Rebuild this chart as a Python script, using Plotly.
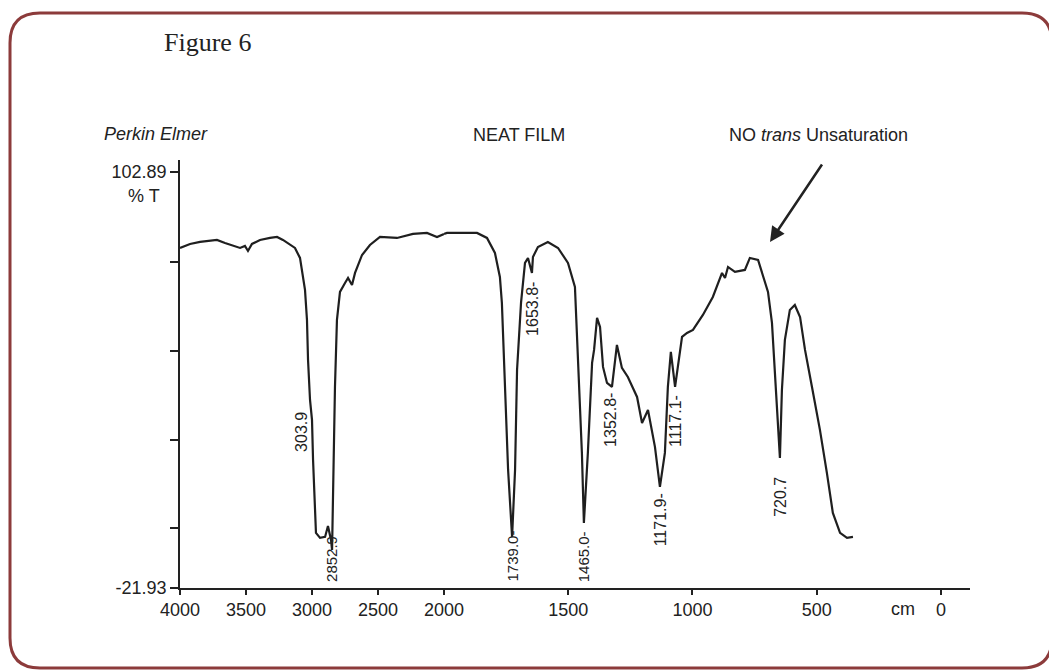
import plotly.graph_objects as go

# ---- data (wavenumber on the chart's axis, %T) ----
wavenumber = [4000, 3924, 3848, 3773, 3720, 3659, 3583, 3545, 3508, 3485, 3455, 3394, 3318, 3265,
              3220, 3167, 3129, 3091, 3068, 3053, 3038, 3030, 3015, 3000, 2992, 2970, 2939, 2901,
              2879, 2856, 2848, 2841, 2826, 2811, 2788, 2750, 2727, 2697, 2674, 2621, 2561, 2485,
              2356, 2235, 2129, 2053, 2000,
              1988, 1867, 1827, 1795, 1775, 1767, 1755, 1742, 1726, 1714, 1706, 1690, 1674, 1662,
              1646, 1642, 1622, 1582, 1541, 1501, 1473, 1461, 1445, 1437, 1421, 1404, 1396, 1384,
              1372, 1360, 1344, 1324, 1304, 1284, 1260, 1223, 1203, 1179, 1151, 1131, 1111, 1099,
              1087, 1070, 1058, 1042, 1022, 998, 958, 918, 881, 869, 857, 829, 789, 769, 736, 716,
              696, 680, 668, 656, 648, 640, 628, 608, 588, 567, 547, 519, 487, 459, 435, 406, 378, 354]
transmittance = [80.1, 81.3, 81.9, 82.2, 82.5, 81.6, 80.7, 80.1, 80.7, 79.2, 81.3, 82.5, 83.1, 83.4,
                 82.5, 81.0, 80.1, 77.1, 72.0, 67.5, 58.5, 46.5, 34.5, 28.5, 16.5, -5.4, -6.9, -6.6,
                 -3.3, -7.5, -10.5, 8.4, 38.4, 58.5, 66.9, 69.6, 71.1, 69.0, 72.6, 78.0, 81.0, 83.4,
                 83.1, 84.3, 84.6, 83.4, 84.3,
                 84.6, 84.6, 83.1, 78.6, 71.4, 63.6, 38.4, 13.5, -6.6, 13.5, 43.5, 63.6, 75.6, 77.1,
                 72.6, 77.4, 80.4, 81.9, 80.1, 75.6, 68.4, 48.6, 18.6, -2.4, 18.6, 45.6, 49.5, 59.1,
                 56.4, 44.4, 39.6, 38.4, 51.0, 44.1, 41.4, 35.4, 27.6, 31.5, 20.4, 8.4, 18.6, 38.4,
                 48.9, 38.4, 45.6, 53.4, 54.6, 55.5, 60.0, 65.4, 72.6, 71.1, 74.4, 72.9, 73.5, 77.1,
                 76.5, 71.4, 66.9, 57.6, 42.6, 26.4, 17.1, 37.5, 52.5, 61.5, 63.0, 59.4, 49.5, 38.4,
                 25.5, 12.6, 0.6, -5.4, -6.9, -6.6]

# peak labels as printed on the chart, with their positions (axis units)
peak_text = ["303.9", "2852.9", "1739.0-", "1653.8-", "1465.0-", "1352.8-", "1171.9-", "1117.1-", "720.7"]
peak_axis = ["x", "x", "x2", "x2", "x2", "x2", "x2", "x2", "x2"]
peak_x = [3076, 2848, 1726, 1642, 1437, 1328, 1131, 1066, 644]
peak_y = [31.5, -20.7, -20.7, 70.5, -20.7, 37.2, 7.2, 36.6, 12.0]
peak_anchor = ["top", "bottom", "bottom", "top", "bottom", "top", "top", "top", "top"]
peak_size = [16, 15, 15, 16, 15, 16, 16, 16, 16]

x_left_ticks = [4000, 3500, 3000, 2500, 2000]
x_right_ticks = [1500, 1000, 500, 0]
y_ticks = [-21.93, -3.9, 22.5, 49.2, 75.9, 102.89]
y_ticktext = ["-21.93", "", "", "", "", "102.89"]

# ---- split at the 2000 cm-1 scale change ----
lx = [w for w in wavenumber if w >= 2000]
ly = [t for w, t in zip(wavenumber, transmittance) if w >= 2000]
rx = [w for w in wavenumber if w <= 2000]
ry = [t for w, t in zip(wavenumber, transmittance) if w <= 2000]

OFF = 8  # page body margin of the html
W, H = 1057 - OFF, 671 - OFF
ML, MR, MT, MB = 180 - OFF, 87, 160 - OFF, 83
PW, PH = W - ML - MR, H - MT - MB


def px(xp):
    return (xp - OFF - ML) / PW


def py(yp):
    return (H - MB - (yp - OFF)) / PH


split = px(444)

line_style = dict(color="#1f1f1f", width=2.2)
fig = go.Figure()
fig.add_trace(go.Scatter(x=lx, y=ly, mode="lines", line=line_style, xaxis="x", yaxis="y",
                         showlegend=False, hoverinfo="skip"))
fig.add_trace(go.Scatter(x=rx, y=ry, mode="lines", line=line_style, xaxis="x2", yaxis="y",
                         showlegend=False, hoverinfo="skip"))

FONT = "Liberation Sans, Arial, sans-serif"
axis_common = dict(showline=True, linecolor="#222", linewidth=1.5, ticks="outside",
                   tickcolor="#222", tickwidth=1.5, showgrid=False, zeroline=False,
                   tickfont=dict(family=FONT, size=18, color="#222"))

fig.update_layout(
    width=W, height=H, margin=dict(l=ML, r=MR, t=MT, b=MB),
    paper_bgcolor="white", plot_bgcolor="white",
    xaxis=dict(domain=[0, split], range=[4000, 2000], tickvals=x_left_ticks, anchor="y", ticklen=5, **axis_common),
    xaxis2=dict(domain=[split, 1], range=[2000, -117], tickvals=x_right_ticks, anchor="y", ticklen=5, **axis_common),
    yaxis=dict(range=[-21.93, 106.49], tickvals=y_ticks, ticktext=y_ticktext, ticklen=8, **axis_common),
)

ann = []
for t, ax_, xv, yv, ya, fs in zip(peak_text, peak_axis, peak_x, peak_y, peak_anchor, peak_size):
    ann.append(dict(text=t, x=xv, y=yv, xref=ax_, yref="y", showarrow=False, textangle=-90,
                    xanchor="center", yanchor=ya, font=dict(family=FONT, size=fs, color="#222")))

ann += [
    dict(text="Figure 6", x=px(207), y=py(42), xref="paper", yref="paper", showarrow=False,
         xanchor="center", yanchor="middle",
         font=dict(family="Liberation Serif, Times New Roman, serif", size=26, color="#222")),
    dict(text="<i>Perkin Elmer</i>", x=px(156), y=py(134), xref="paper", yref="paper", showarrow=False,
         xanchor="center", yanchor="middle", font=dict(family=FONT, size=18, color="#222")),
    dict(text="NEAT FILM", x=px(519), y=py(135), xref="paper", yref="paper", showarrow=False,
         xanchor="center", yanchor="middle", font=dict(family=FONT, size=18, color="#222")),
    dict(text="NO <i>trans</i> Unsaturation", x=px(818), y=py(135), xref="paper", yref="paper",
         showarrow=False, xanchor="center", yanchor="middle", font=dict(family=FONT, size=18, color="#222")),
    dict(text="% T", x=px(162), y=py(196), xref="paper", yref="paper", showarrow=False,
         xanchor="right", yanchor="middle", font=dict(family=FONT, size=18, color="#222")),
    dict(text="cm", x=px(903), y=py(609), xref="paper", yref="paper", showarrow=False,
         xanchor="center", yanchor="middle", font=dict(family=FONT, size=18, color="#222")),
    dict(text="", x=px(770), y=py(242), xref="paper", yref="paper", showarrow=True,
         ax=53, ay=-79, arrowhead=2, arrowsize=1.2, arrowwidth=2.5, arrowcolor="#222"),
]
fig.update_layout(annotations=ann)

# rounded frame
x0, x1 = px(10), px(1052)
y0, y1 = py(668), py(13)
rx_, ry_ = 30 / PW, 30 / PH
path = (f"M {x0+rx_},{y1} L {x1-rx_},{y1} Q {x1},{y1} {x1},{y1-ry_} L {x1},{y0+ry_} "
        f"Q {x1},{y0} {x1-rx_},{y0} L {x0+rx_},{y0} Q {x0},{y0} {x0},{y0+ry_} "
        f"L {x0},{y1-ry_} Q {x0},{y1} {x0+rx_},{y1} Z")
fig.add_shape(type="path", path=path, xref="paper", yref="paper",
              line=dict(color="#8c3b3b", width=3), layer="below")

fig.write_html("out.html")
